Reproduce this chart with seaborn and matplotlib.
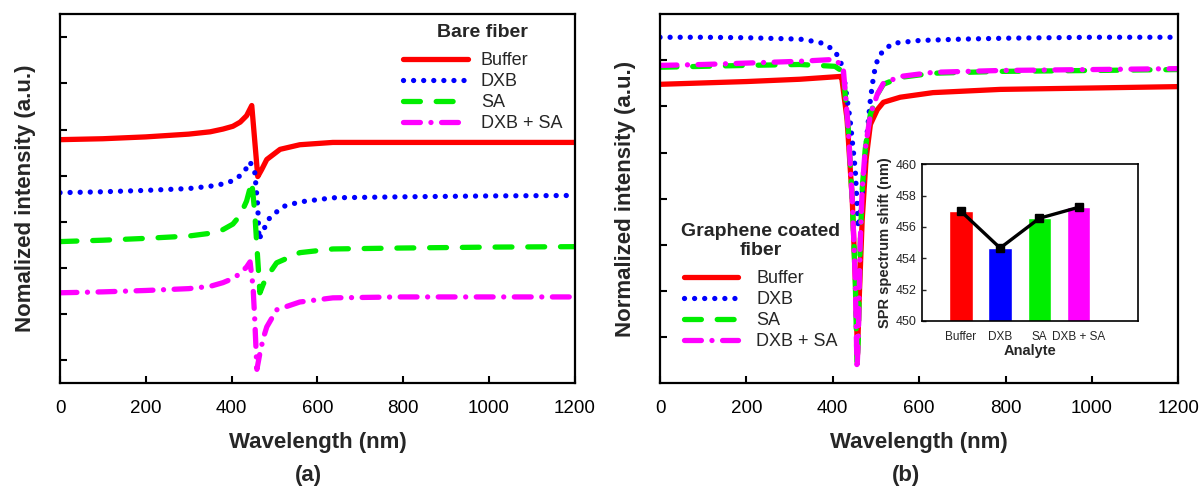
import numpy as np
import pandas as pd
import seaborn as sns
import matplotlib
matplotlib.use('Agg')
import matplotlib.pyplot as plt

# (a) bare fiber curves (wavelength nm, intensity a.u.)
bare_buffer_x = [0, 100, 200, 300, 350, 380, 403, 420, 435, 447, 461, 470, 482, 513, 559, 636, 800, 1000, 1200]
bare_buffer_y = [5.28, 5.30, 5.34, 5.40, 5.45, 5.51, 5.57, 5.66, 5.80, 6.02, 4.48, 4.63, 4.85, 5.07, 5.17, 5.22, 5.22, 5.22, 5.22]
bare_dxb_x = [0, 100, 200, 300, 350, 380, 403, 420, 433, 443, 454, 461, 464, 470, 478, 489, 520, 559, 636, 792, 1000, 1200]
bare_dxb_y = [4.13, 4.15, 4.18, 4.22, 4.27, 4.32, 4.39, 4.50, 4.64, 4.80, 4.57, 3.83, 3.11, 3.25, 3.39, 3.59, 3.83, 3.93, 4.02, 4.04, 4.06, 4.07]
bare_sa_x = [0, 100, 200, 300, 350, 380, 403, 420, 435, 447, 454, 459, 466, 474, 482, 505, 559, 636, 792, 1000, 1200]
bare_sa_y = [3.07, 3.10, 3.14, 3.19, 3.25, 3.33, 3.45, 3.64, 3.95, 4.37, 3.70, 2.96, 1.96, 2.15, 2.30, 2.61, 2.83, 2.91, 2.93, 2.95, 2.96]
bare_mix_x = [0, 100, 200, 300, 350, 380, 403, 420, 435, 443, 450, 454, 459, 466, 474, 482, 505, 559, 636, 792, 1000, 1200]
bare_mix_y = [1.96, 1.98, 2.01, 2.05, 2.10, 2.18, 2.27, 2.38, 2.52, 2.63, 2.09, 1.37, 0.30, 0.65, 0.98, 1.22, 1.59, 1.76, 1.85, 1.87, 1.87, 1.87]

# (b) graphene coated fiber curves
gr_buffer_x = [0, 100, 200, 324, 417, 421, 433, 445, 454, 457, 461, 468, 477, 487, 503, 517, 556, 632, 788, 1000, 1200]
gr_buffer_y = [6.48, 6.51, 6.54, 6.59, 6.65, 6.60, 5.72, 3.98, 1.80, 0.61, 1.80, 3.54, 4.85, 5.61, 5.93, 6.09, 6.20, 6.30, 6.37, 6.40, 6.43]
gr_dxb_x = [0, 100, 200, 324, 370, 401, 417, 425, 440, 452, 459, 463, 470, 478, 487, 495, 505, 520, 540, 600, 700, 800, 1000, 1200]
gr_dxb_y = [7.50, 7.50, 7.49, 7.46, 7.39, 7.24, 7.02, 6.70, 5.72, 4.63, 3.37, 3.65, 4.30, 5.28, 6.15, 6.70, 7.07, 7.24, 7.37, 7.43, 7.46, 7.48, 7.50, 7.50]
gr_sa_x = [0, 100, 200, 324, 405, 424, 436, 445, 452, 456, 459, 463, 468, 475, 487, 503, 517, 556, 632, 788, 1000, 1200]
gr_sa_y = [6.85, 6.87, 6.89, 6.91, 6.87, 6.75, 5.50, 3.98, 2.24, 0.39, 0.93, 2.89, 4.20, 5.07, 5.83, 6.26, 6.48, 6.63, 6.72, 6.76, 6.78, 6.80]
gr_mix_x = [0, 100, 200, 324, 405, 424, 436, 445, 452, 456, 459, 463, 468, 475, 487, 503, 517, 556, 632, 788, 1000, 1200]
gr_mix_y = [6.89, 6.91, 6.94, 6.98, 7.02, 6.85, 5.50, 3.98, 2.24, 0.30, 0.93, 2.89, 4.20, 5.07, 5.83, 6.26, 6.50, 6.65, 6.74, 6.78, 6.80, 6.82]

# inset: SPR spectrum shift per analyte
analytes = ['Buffer', 'DXB', 'SA', 'DXB + SA']
spr_shift = [457.0, 454.65, 456.55, 457.25]

labels = ['Buffer', 'DXB', 'SA', 'DXB + SA']
colors = ['#ff0000', '#0000ff', '#00ee00', '#ff00ff']
styles = ['-', (0, (0.01, 1.9)), (0, (3.2, 3.0)), (0, (3.2, 2.0, 0.01, 2.0))]

sns.set_style('ticks')
plt.rcParams['font.family'] = ['Liberation Sans', 'DejaVu Sans']
plt.rcParams['axes.linewidth'] = 1.6

fig = plt.figure(figsize=(12, 4.9), dpi=100)
ax1 = fig.add_axes([0.05, 0.218, 0.429, 0.753])
ax2 = fig.add_axes([0.55, 0.218, 0.432, 0.753])
axin = fig.add_axes([0.768, 0.345, 0.18, 0.32])


def draw_panel(ax, xs, ys):
    for x, y, lab, c, ls in zip(xs, ys, labels, colors, styles):
        sns.lineplot(x=x, y=y, ax=ax, color=c, linestyle=ls, lw=3.8,
                     label=lab, dash_capstyle='round', solid_capstyle='round')
    ax.set_xlim(0, 1200)
    ax.set_ylim(0, 8)
    ax.set_xticks(range(0, 1201, 200))
    ax.tick_params(axis='both', direction='in', length=5, width=1.5, labelsize=13.5,
                   colors='black')
    ax.tick_params(axis='y', labelleft=False)
    ax.tick_params(axis='x', pad=12)
    ax.set_xlabel('Wavelength (nm)', fontsize=16, fontweight='bold', labelpad=11)
    for s in ax.spines.values():
        s.set_color('black')


draw_panel(ax1, [bare_buffer_x, bare_dxb_x, bare_sa_x, bare_mix_x],
           [bare_buffer_y, bare_dxb_y, bare_sa_y, bare_mix_y])
ax1.set_yticks(np.arange(0.5, 8, 1))
ax1.set_ylabel('Nomalized intensity (a.u.)', fontsize=16, fontweight='bold', labelpad=17)
leg1 = ax1.legend(title='Bare fiber', frameon=False, loc='upper right',
                  bbox_to_anchor=(0.995, 1.0), handlelength=3.6, handletextpad=0.7,
                  fontsize=13, labelspacing=0.22, borderaxespad=0.15,
                  title_fontproperties={'weight': 'bold', 'size': 14})
leg1._legend_box.sep = 8

draw_panel(ax2, [gr_buffer_x, gr_dxb_x, gr_sa_x, gr_mix_x],
           [gr_buffer_y, gr_dxb_y, gr_sa_y, gr_mix_y])
ax2.set_yticks(range(1, 8))
ax2.set_ylabel('Normalized intensity (a.u.)', fontsize=16, fontweight='bold', labelpad=17)
leg2 = ax2.legend(title='Graphene coated\nfiber', frameon=False, loc='lower left',
                  bbox_to_anchor=(0.02, 0.06), handlelength=3.0, handletextpad=1.0,
                  fontsize=13, labelspacing=0.22, borderaxespad=0.2,
                  title_fontproperties={'weight': 'bold', 'size': 14})
leg2.get_title().set_multialignment('center')
leg2._legend_box.sep = 8

fig.text(0.257, 0.03, '(a)', ha='center', va='center', fontsize=16, fontweight='bold')
fig.text(0.755, 0.03, '(b)', ha='center', va='center', fontsize=16, fontweight='bold')

# inset bars
sns.barplot(x=analytes, y=spr_shift, hue=analytes, palette=colors, ax=axin,
            width=0.6, legend=False, saturation=1)
axin.plot(range(len(analytes)), spr_shift, color='black', lw=2.4, marker='s', ms=5.5)
axin.set_ylim(450, 460)
axin.set_xlim(-1.0, 4.5)
axin.set_yticks(range(450, 461, 2))
axin.tick_params(axis='y', direction='in', length=3, width=1, labelsize=9)
axin.tick_params(axis='x', length=0, labelsize=8.5, pad=7)
axin.set_xlabel('Analyte', fontsize=10.5, fontweight='bold', labelpad=1)
axin.set_ylabel('SPR spectrum shift (nm)', fontsize=10.5, fontweight='bold', labelpad=3)
for s in axin.spines.values():
    s.set_color('black')
    s.set_linewidth(1.2)

fig.savefig('out.png', dpi=100)
